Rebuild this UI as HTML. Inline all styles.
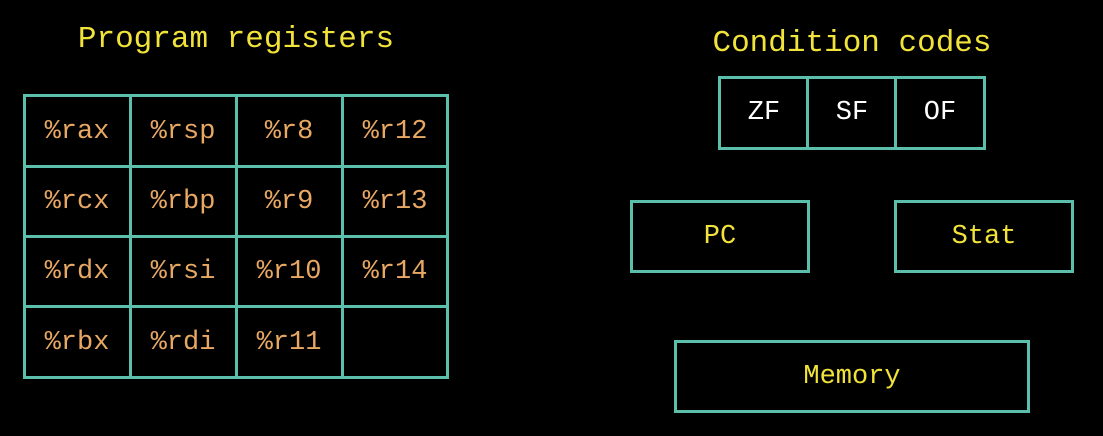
<!DOCTYPE html>
<html><head><meta charset="utf-8"><style>
html,body{margin:0;padding:0;background:#000;width:1103px;height:436px;overflow:hidden;position:relative;font-family:"Liberation Mono",monospace}
.t{position:absolute;color:#f2e33a;font-size:31px;text-align:center;white-space:nowrap}
.b{position:absolute;border:3px solid #5bbfac;box-sizing:border-box;display:flex;align-items:center;justify-content:center;font-size:27px}
.cell{position:absolute;display:flex;align-items:center;justify-content:center;color:#e8a864;font-size:27px;box-sizing:border-box}
.v{position:absolute;background:#5bbfac}
</style></head><body>
<div class="t" style="left:36px;width:400px;top:22px">Program registers</div>
<div class="t" style="left:652px;width:400px;top:26px">Condition codes</div>
<div class="b" style="left:23px;top:94px;width:426px;height:285px"></div>
<div id="grid"></div>
<div class="b" style="left:718px;top:76px;width:268px;height:74px;color:#fff"></div>
<div class="v" style="left:806px;top:76px;width:3px;height:74px"></div>
<div class="v" style="left:894px;top:76px;width:3px;height:74px"></div>
<div class="cell" style="left:721px;top:79px;width:86px;height:68px;color:#fff">ZF</div>
<div class="cell" style="left:809px;top:79px;width:86px;height:68px;color:#fff">SF</div>
<div class="cell" style="left:897px;top:79px;width:86px;height:68px;color:#fff">OF</div>
<div class="b" style="left:630px;top:200px;width:180px;height:73px;color:#f2e33a">PC</div>
<div class="b" style="left:894px;top:200px;width:180px;height:73px;color:#f2e33a">Stat</div>
<div class="b" style="left:674px;top:340px;width:356px;height:73px;color:#f2e33a">Memory</div>
<script>
const regs=[["%rax","%rsp","%r8","%r12"],["%rcx","%rbp","%r9","%r13"],["%rdx","%rsi","%r10","%r14"],["%rbx","%rdi","%r11",""]];
const g=document.getElementById('grid');
const xs=[24,130,236,342,448],ys=[95,166,236,306,378];
for(let i=1;i<4;i++){
 const v=document.createElement('div');v.className='v';
 
 
 v.style.cssText=`left:${xs[i]-1}px;top:95px;width:3px;height:283px`;g.appendChild(v);
 const h=document.createElement('div');h.className='v';
 
 
 h.style.cssText=`left:24px;top:${ys[i]-1}px;width:424px;height:3px`;g.appendChild(h);
}
regs.forEach((row,r)=>row.forEach((n,c)=>{
 const d=document.createElement('div');d.className='cell';
 
 
 d.style.cssText=`left:${xs[c]}px;top:${ys[r]+1}px;width:${xs[c+1]-xs[c]}px;height:${ys[r+1]-ys[r]}px`;
 d.textContent=n;g.appendChild(d);
}));
</script>
</body></html>
